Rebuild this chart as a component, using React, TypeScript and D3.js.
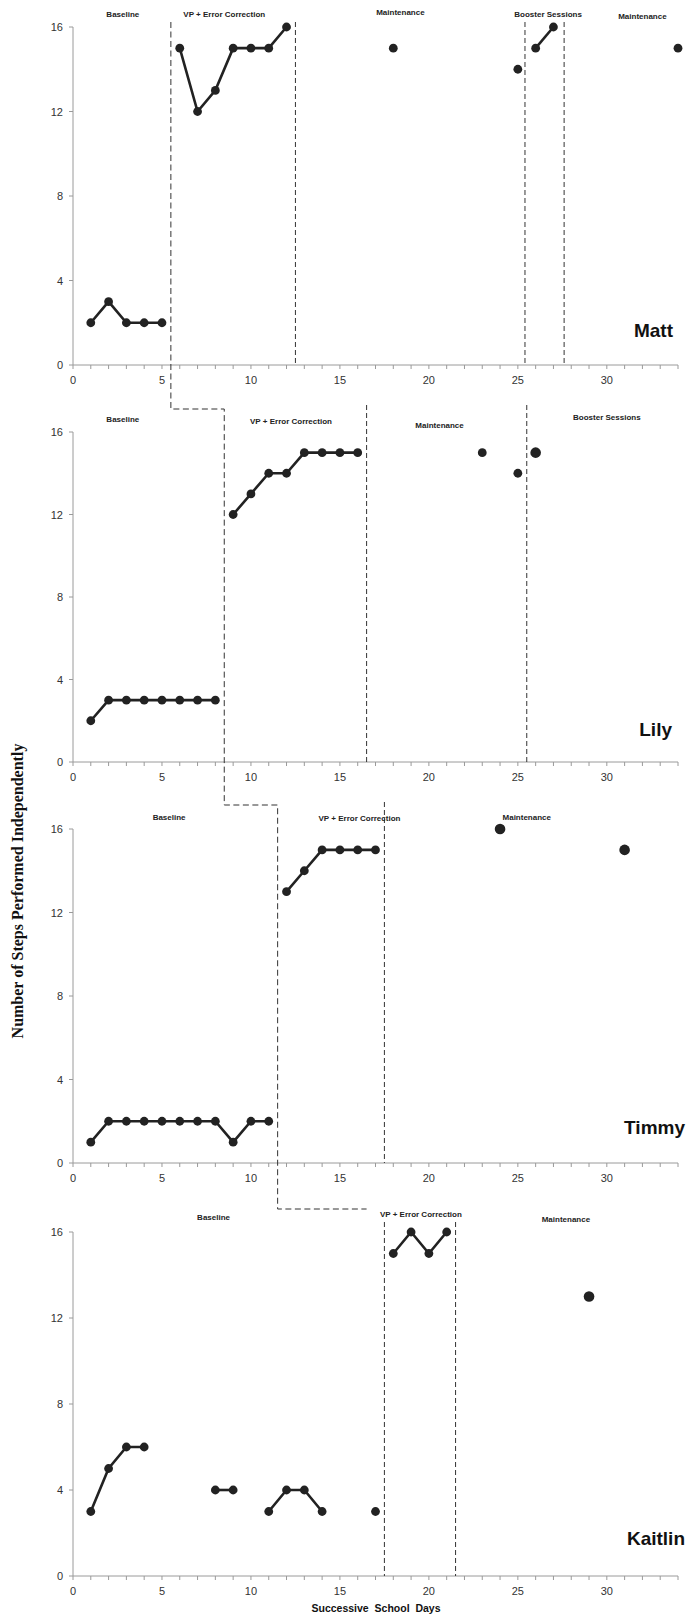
import React, { useEffect, useRef } from 'react';
import * as d3 from 'd3';

// each participant: connected runs of days and the steps done on them
const names = ['Matt', 'Lily', 'Timmy', 'Kaitlin'];

const mattDays = [[1, 2, 3, 4, 5], [6, 7, 8, 9, 10, 11, 12], [18], [25], [26, 27], [34]];
const mattSteps = [[2, 3, 2, 2, 2], [15, 12, 13, 15, 15, 15, 16], [15], [14], [15, 16], [15]];

const lilyDays = [[1, 2, 3, 4, 5, 6, 7, 8], [9, 10, 11, 12, 13, 14, 15, 16], [23], [25], [26]];
const lilySteps = [[2, 3, 3, 3, 3, 3, 3, 3], [12, 13, 14, 14, 15, 15, 15, 15], [15], [14], [15]];

const timmyDays = [[1, 2, 3, 4, 5, 6, 7, 8, 9, 10, 11], [12, 13, 14, 15, 16, 17], [24], [31]];
const timmySteps = [[1, 2, 2, 2, 2, 2, 2, 2, 1, 2, 2], [13, 14, 15, 15, 15, 15], [16], [15]];

const kaitlinDays = [[1, 2, 3, 4], [8, 9], [11, 12, 13, 14], [17], [18, 19, 20, 21], [29]];
const kaitlinSteps = [[3, 5, 6, 6], [4, 4], [3, 4, 4, 3], [3], [15, 16, 15, 16], [13]];

// phase change lines (in days), apart from the staircase
const mattPhaseLines = [12.5, 25.4, 27.6];
const lilyPhaseLines = [16.5, 25.5];
const timmyPhaseLines = [17.5];
const kaitlinPhaseLines = [17.5, 21.5];

// staircase line for the multiple baseline
const staircaseDays = [5.5, 8.5, 11.5, 16.5];

const mattPhases = ['Baseline', 'VP + Error Correction', 'Maintenance', 'Booster Sessions', 'Maintenance'];
const lilyPhases = ['Baseline', 'VP + Error Correction', 'Maintenance', 'Booster Sessions'];
const timmyPhases = ['Baseline', 'VP + Error Correction', 'Maintenance'];
const kaitlinPhases = ['Baseline', 'VP + Error Correction', 'Maintenance'];

const yTicks = [0, 4, 8, 12, 16];
const xTicks = [0, 5, 10, 15, 20, 25, 30];

const W = 690;
const H = 1618;

// layout of the four panels (pixels); bigDots = days drawn with a larger marker
const panels = [
  { days: mattDays, steps: mattSteps, lines: mattPhaseLines, phases: mattPhases,
    top: 27, bottom: 365, lineTop: 22, labelX: [2.8, 8.5, 18.4, 26.7, 32.0], labelY: [14, 14, 12, 14, 16],
    nameX: 673, nameY: 337, bigDots: [] as number[] },
  { days: lilyDays, steps: lilySteps, lines: lilyPhaseLines, phases: lilyPhases,
    top: 432, bottom: 762, lineTop: 405, labelX: [2.8, 12.25, 20.6, 30.0], labelY: [419, 421, 425, 417],
    nameX: 672, nameY: 736, bigDots: [26] },
  { days: timmyDays, steps: timmySteps, lines: timmyPhaseLines, phases: timmyPhases,
    top: 829, bottom: 1163, lineTop: 802, labelX: [5.4, 16.1, 25.5], labelY: [817, 818, 817],
    nameX: 685, nameY: 1134, bigDots: [24, 31] },
  { days: kaitlinDays, steps: kaitlinSteps, lines: kaitlinPhaseLines, phases: kaitlinPhases,
    top: 1232, bottom: 1576, lineTop: 1222, labelX: [7.9, 19.55, 27.7], labelY: [1217, 1214, 1219],
    nameX: 685, nameY: 1545, bigDots: [29] },
];
const stairY = [22, 409, 805, 1209];

const font = "'Liberation Sans', Arial, sans-serif";

const App = () => {
  const ref = useRef<SVGSVGElement>(null);

  useEffect(() => {
    document.body.style.margin = '0';
    const svg = d3.select(ref.current);
    svg.selectAll('*').remove();

    const x = d3.scaleLinear().domain([0, 34]).range([73, 678]);

    panels.forEach((p, i) => {
      const y = d3.scaleLinear().domain([0, 16]).range([p.bottom, p.top]);
      const g = svg.append('g');

      // axes
      g.append('line').attr('x1', x(0)).attr('x2', x(34)).attr('y1', y(0)).attr('y2', y(0))
        .attr('stroke', '#9a9a9a');
      g.append('line').attr('x1', x(0)).attr('x2', x(0)).attr('y1', y(0)).attr('y2', y(16))
        .attr('stroke', '#9a9a9a');
      g.selectAll(null).data(d3.range(0, 35)).enter().append('line')
        .attr('x1', d => x(d)).attr('x2', d => x(d)).attr('y1', y(0)).attr('y2', y(0) + 4)
        .attr('stroke', '#9a9a9a');
      g.selectAll(null).data(yTicks).enter().append('line')
        .attr('x1', x(0) - 4).attr('x2', x(0)).attr('y1', d => y(d)).attr('y2', d => y(d))
        .attr('stroke', '#9a9a9a');
      g.selectAll(null).data(xTicks).enter().append('text')
        .attr('x', d => x(d)).attr('y', y(0) + 19).attr('text-anchor', 'middle')
        .attr('font-family', font).attr('font-size', 11).attr('fill', '#333').text(d => d);
      g.selectAll(null).data(yTicks).enter().append('text')
        .attr('x', x(0) - 10).attr('y', d => y(d) + 4).attr('text-anchor', 'end')
        .attr('font-family', font).attr('font-size', 11).attr('fill', '#333').text(d => d);

      // phase lines
      g.selectAll(null).data(p.lines).enter().append('line')
        .attr('x1', d => x(d)).attr('x2', d => x(d)).attr('y1', p.lineTop).attr('y2', y(0))
        .attr('stroke', '#333').attr('stroke-width', 1).attr('stroke-dasharray', '5,3');

      // phase labels
      g.selectAll(null).data(p.phases).enter().append('text')
        .attr('x', (d, j) => x(p.labelX[j])).attr('y', (d, j) => p.labelY[j] + 3)
        .attr('text-anchor', 'middle').attr('font-family', font).attr('font-weight', 'bold')
        .attr('font-size', 8).attr('fill', '#222').text(d => d);

      // name
      g.append('text').attr('x', p.nameX).attr('y', p.nameY).attr('text-anchor', 'end')
        .attr('font-family', font).attr('font-weight', 'bold').attr('font-size', 19)
        .attr('fill', '#111').text(names[i]);

      // data
      const line = d3.line<[number, number]>().x(d => x(d[0])).y(d => y(d[1]));
      p.days.forEach((ds, k) => {
        const pts = ds.map((d, j) => [d, p.steps[k][j]] as [number, number]);
        if (pts.length > 1) {
          g.append('path').attr('d', line(pts)).attr('fill', 'none')
            .attr('stroke', '#222').attr('stroke-width', 2.6);
        }
        g.selectAll(null).data(pts).enter().append('circle')
          .attr('cx', d => x(d[0])).attr('cy', d => y(d[1]))
          .attr('r', d => (p.bigDots.includes(d[0]) ? 5.3 : 4.4)).attr('fill', '#222');
      });
    });

    // staircase phase line running through the panels
    const sp = d3.path();
    sp.moveTo(x(staircaseDays[0]), stairY[0]);
    for (let i = 1; i < staircaseDays.length; i++) {
      sp.lineTo(x(staircaseDays[i - 1]), stairY[i]);
      sp.lineTo(x(staircaseDays[i]), stairY[i]);
    }
    svg.append('path').attr('d', sp.toString()).attr('fill', 'none')
      .attr('stroke', '#333').attr('stroke-width', 1).attr('stroke-dasharray', '6,3.5');

    // axis titles
    svg.append('text').attr('transform', 'translate(23,891) rotate(-90)')
      .attr('text-anchor', 'middle').attr('font-family', "'Liberation Serif', 'Times New Roman', serif")
      .attr('font-weight', 'bold').attr('font-size', 16).attr('fill', '#111')
      .text('Number of Steps Performed Independently');
    svg.append('text').attr('x', 376).attr('y', 1612).attr('text-anchor', 'middle')
      .attr('font-family', font).attr('font-weight', 'bold').attr('font-size', 10.5)
      .attr('fill', '#111').style('white-space', 'pre')
      .text('Successive  School  Days');
  }, []);

  return <svg ref={ref} width={W} height={H} style={{ display: 'block', background: '#fff' }} />;
};

export default App;
